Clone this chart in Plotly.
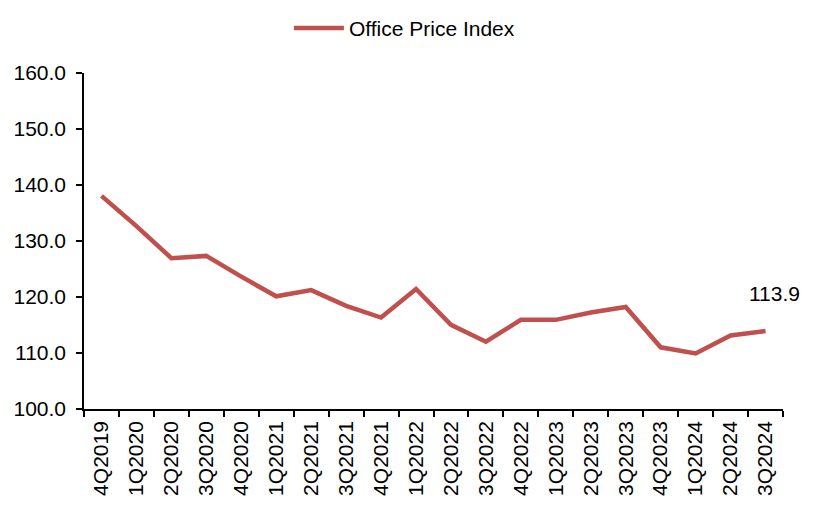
import plotly.graph_objects as go

quarters = ["4Q2019", "1Q2020", "2Q2020", "3Q2020", "4Q2020", "1Q2021", "2Q2021",
            "3Q2021", "4Q2021", "1Q2022", "2Q2022", "3Q2022", "4Q2022", "1Q2023",
            "2Q2023", "3Q2023", "4Q2023", "1Q2024", "2Q2024", "3Q2024"]
office_price_index = [138.0, 132.6, 126.9, 127.3, 123.6, 120.1, 121.2, 118.4, 116.3,
                      121.4, 115.0, 112.0, 115.9, 115.9, 117.2, 118.2, 111.0, 109.9,
                      113.1, 113.9]

FONT = "Liberation Sans, Arial, sans-serif"
fs = 21

fig = go.Figure()
fig.add_trace(go.Scatter(
    x=quarters, y=office_price_index, mode="lines", name="Office Price Index",
    line=dict(color="#C0504D", width=4.5),
))

fig.add_annotation(x=quarters[-1], y=office_price_index[-1], text="113.9",
                   showarrow=False, yshift=38, xshift=9,
                   font=dict(family=FONT, size=fs, color="#000000"))

fig.update_layout(
    width=817, height=524,
    margin=dict(l=84, r=34, t=70, b=115),
    paper_bgcolor="white", plot_bgcolor="white",
    font=dict(family=FONT, size=fs, color="#000000"),
    showlegend=True,
    legend=dict(orientation="h", x=0.495, xanchor="center", xref="container",
                y=0.985, yanchor="top", yref="container", itemwidth=50,
                font=dict(family=FONT, size=fs)),
    xaxis=dict(
        type="category", tickson="boundaries", ticks="outside", ticklen=6,
        tickwidth=1.5, tickcolor="black", showline=True, linecolor="black",
        linewidth=1.5, tickangle=-90, showgrid=False, zeroline=False,
        ticklabelstandoff=2,
        range=[-0.5, len(quarters) - 0.5],
    ),
    yaxis=dict(
        range=[100, 160], dtick=10, tickformat=".1f", ticks="outside", ticklen=6,
        tickwidth=1.5, tickcolor="black", showline=True, linecolor="black",
        linewidth=1.5, showgrid=False, zeroline=False, ticklabelstandoff=6,
    ),
)

fig.write_html("out.html")
